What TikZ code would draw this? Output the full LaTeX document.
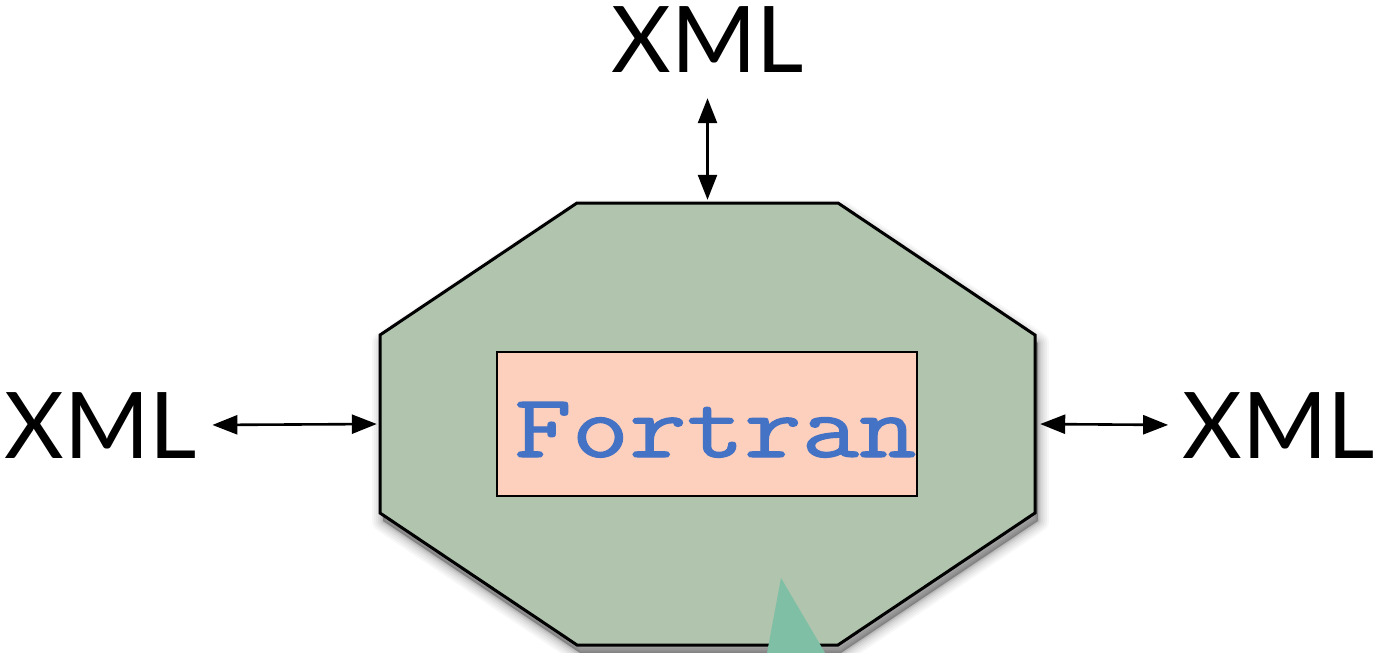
\documentclass[tikz,border=0pt]{standalone}
\usepackage{fontspec}
\usepackage{graphicx}
\usetikzlibrary{arrows.meta}
\newfontfamily\xmlfont{Lato}
\newfontfamily\ftnfont{Latin Modern Mono}[FakeBold=1.2]
\definecolor{octgreen}{RGB}{176,196,174}
\definecolor{boxpink}{RGB}{253,207,189}
\definecolor{fblue}{RGB}{68,114,196}
\definecolor{trigreen}{RGB}{127,191,165}
\begin{document}
\begin{tikzpicture}[x=1pt,y=-1pt,
  xmltext/.style={font=\xmlfont\fontsize{92}{92}\selectfont, inner sep=0pt},
  dbl/.style={line width=2.6pt, {Triangle[length=25pt,width=19pt]}-{Triangle[length=25pt,width=19pt]}},
  octstyle/.style={fill=octgreen, draw=black, line width=3pt, line join=miter},
  boxstyle/.style={fill=boxpink, draw=black, line width=2.6pt, inner sep=0pt, minimum width=420pt, minimum height=144pt},
  ftnstyle/.style={font=\ftnfont\fontsize{90}{90}\selectfont, text=fblue, inner sep=0pt},
  shadowline/.style={draw=black, line join=round},
]
\useasboundingbox (0,0) rectangle (1390,653);
\begin{scope}
\clip (0,0) rectangle (1390,653);
% soft shadow
\foreach \w/\o in {22/0.03, 18/0.035, 14/0.04, 10/0.05, 6/0.06, 3/0.08} {
  \draw[shadowline, line width=\w pt, opacity=\o, shift={(3,8)}]
    (577,203) -- (838,203) -- (1035,335) -- (1035,513) -- (838,645) -- (577,645) -- (380,513) -- (380,335) -- cycle;
}
\fill[black, opacity=0.3, shift={(3,8)}]
    (577,203) -- (838,203) -- (1035,335) -- (1035,513) -- (838,645) -- (577,645) -- (380,513) -- (380,335) -- cycle;
% octagon
\draw[octstyle] (577,203) -- (838,203) -- (1035,335) -- (1035,513) -- (838,645) -- (577,645) -- (380,513) -- (380,335) -- cycle;
\node[inner sep=0pt, minimum width=655pt, minimum height=442pt] (oct) at (707.5,424) {};
% inner box
\node[boxstyle] (box) at (707,424) {};
\node[ftnstyle, anchor=base west] (ftn) at (514,457) {\scalebox{1.24}[1]{Fortran}};
% triangle
\fill[trigreen] (781,578) -- (762,680) -- (841,680) -- cycle;
\end{scope}
% XML labels
\node[xmltext, anchor=base] (xmlT) at (707.5,72) {XML};
\node[xmltext, anchor=base] (xmlL) at (101,458) {XML};
\node[xmltext, anchor=base] (xmlR) at (1278.5,458) {XML};
% connectors
\draw[dbl, shorten <=26pt, shorten >=3pt] (xmlT.south) -- (oct.north);
\draw[dbl, shorten <=15pt, shorten >=3pt] (xmlL.east) -- (oct.west);
\draw[dbl, shorten <=5pt, shorten >=14pt] (oct.east) -- (xmlR.west);
\end{tikzpicture}
\end{document}
